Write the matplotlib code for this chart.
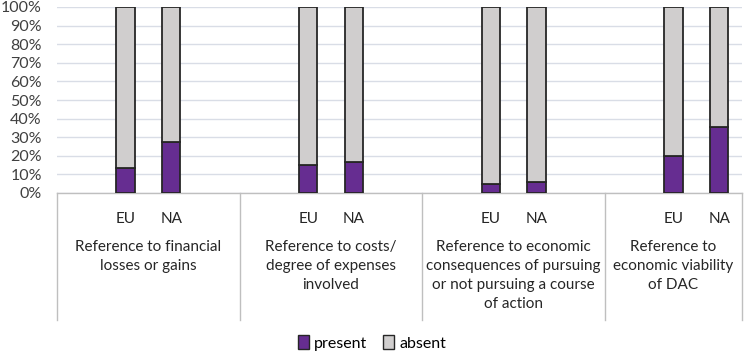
import matplotlib
matplotlib.use("Agg")
import matplotlib.pyplot as plt
from matplotlib.patches import Patch

plt.rcParams['font.family'] = ['Lato', 'DejaVu Sans']

categories = ["Reference to financial\nlosses or gains",
              "Reference to costs/\ndegree of expenses\ninvolved",
              "Reference to economic\nconsequences of pursuing\nor not pursuing a course\nof action",
              "Reference to\neconomic viability\nof DAC"]
regions = ["EU", "NA"]
present = [13.5, 27.5, 15.0, 16.5, 4.7, 6.0, 19.7, 35.5]
absent = [100 - v for v in present]
# slot index of each bar in the multi-level axis (blank slots between groups)
slots = [1, 2, 5, 6, 9, 10, 13, 14]
group_bounds = [-0.5, 3.5, 7.5, 11.5, 14.5]

purple = "#662D91"
gray = "#D0CECE"
edge = "#262626"

fig = plt.figure(figsize=(7.44, 3.54), dpi=100)
ax = fig.add_axes([57/744, 1 - 193/354, (742-57)/744, 186/354])

w = 0.4
ax.bar(slots, present, width=w, color=purple, edgecolor=edge, linewidth=1.3, zorder=3, label="present")
ax.bar(slots, absent, bottom=present, width=w, color=gray, edgecolor=edge, linewidth=1.3, zorder=3, label="absent")

ax.set_xlim(-0.5, 14.5)
ax.set_ylim(0, 100)
ax.set_yticks(range(0, 101, 10))
ax.set_yticklabels([f"{v}%" for v in range(0, 101, 10)], fontsize=11.5, color="#404040")
ax.yaxis.grid(True, color="#D9DDE6", linewidth=1.0, zorder=0)
ax.tick_params(axis='y', length=0, pad=11)
ax.tick_params(axis='x', length=0, pad=14)
ax.set_xticks(slots)
ax.set_xticklabels(regions * 4, fontsize=11, color="#262626")
for s in ["left", "right", "top"]:
    ax.spines[s].set_visible(False)
ax.spines["bottom"].set_color("#BFBFBF")
ax.spines["bottom"].set_linewidth(1.0)

trans = ax.get_xaxis_transform()
for b in group_bounds:
    ax.plot([b, b], [0, -(320-193)/186], transform=trans, color="#BFBFBF",
            linewidth=1.0, clip_on=False, zorder=1)
for i, cat in enumerate(categories):
    cx = (group_bounds[i] + group_bounds[i+1]) / 2
    ax.text(cx, -(240-193)/186, cat, transform=trans, ha="center", va="top",
            fontsize=11, color="#262626", linespacing=1.45)

handles = [Patch(facecolor=purple, edgecolor=edge, label="present"),
           Patch(facecolor=gray, edgecolor=edge, label="absent")]
fig.legend(handles=handles, loc="center", bbox_to_anchor=(372/744, 1 - 343/354),
           ncol=2, frameon=False, fontsize=11.5, handlelength=0.7, handleheight=0.9,
           handletextpad=0.3, columnspacing=1.0)

fig.savefig("out.png", dpi=100)
